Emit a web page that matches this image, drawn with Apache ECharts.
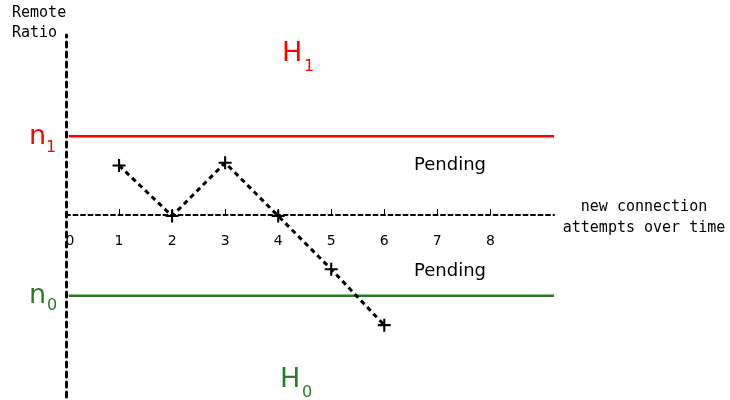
<!DOCTYPE html>
<html>
<head>
<meta charset="utf-8">
<script src="https://cdn.jsdelivr.net/npm/echarts@6/dist/echarts.min.js"></script>
<style>
  html, body { margin: 0; padding: 0; background: #fff; }
  #chart { width: 730px; height: 400px; }
</style>
</head>
<body>
<div id="chart"></div>
<script>
(function () {

  // attempts (x) and remote ratio (y) of the walk
  var steps = [1, 2, 3, 4, 5, 6];
  var ratios = [0.95, 0, 1.0, 0, -1.0, -2.05];

  // thresholds
  var span = [0.05, 9.2];
  var upperLevel = 1.5;   // n1
  var lowerLevel = -1.5;  // n0

  var tickValues = [1, 2, 3, 4, 5, 6, 7, 8];
  var labelValues = [0, 1, 2, 3, 4, 5, 6, 7, 8];

  var red = '#ff0000';
  var green = '#2a7b26';
  var sans = 'DejaVu Sans';
  var mono = 'DejaVu Sans Mono';
  var plus = 'path://M-1,-0.16H-0.16V-1H0.16V-0.16H1V0.16H0.16V1H-0.16V0.16H-1Z';

  var myChart = echarts.init(document.getElementById('chart'));
  var option = {
    animation: false,
    backgroundColor: '#fff',
    grid: [
      // plot area
      { left: 66, right: 176, top: 35, bottom: 3, outerBoundsMode: 'none' },
      // upper half, its bottom edge carries the time axis at ratio 0
      { left: 66, right: 176, top: 35, bottom: 185, outerBoundsMode: 'none' }
    ],
    xAxis: [
      { gridIndex: 0, type: 'value', min: 0, max: 9.2, show: false },
      {
        gridIndex: 1,
        type: 'value',
        min: 0,
        max: 9.2,
        interval: 1,
        position: 'bottom',
        splitLine: { show: false },
        axisLine: { onZero: false, lineStyle: { color: '#000', width: 2, type: [4, 3.5] } },
        axisTick: {
          inside: true, length: 6, customValues: tickValues,
          lineStyle: { color: '#000', width: 1 }
        },
        axisLabel: {
          customValues: labelValues, margin: 19,
          color: '#000', fontFamily: sans, fontSize: 14,
          formatter: function (v) { return v === 0 ? '{z|0}' : String(v); },
          rich: { z: { padding: [0, 0, 0, 8], fontFamily: sans, fontSize: 14, color: '#000' } }
        }
      }
    ],
    yAxis: [
      {
        gridIndex: 0,
        type: 'value',
        min: -3.4,
        max: 3.4,
        splitLine: { show: false },
        axisTick: { show: false },
        axisLabel: { show: false },
        axisLine: { onZero: false, lineStyle: { color: '#000', width: 3, type: [5, 5] } }
      },
      { gridIndex: 1, type: 'value', show: false }
    ],
    series: [
      {
        type: 'line',
        data: span.map(function (x) { return [x, upperLevel]; }),
        symbol: 'none',
        lineStyle: { color: red, width: 2.5 }
      },
      {
        type: 'line',
        data: span.map(function (x) { return [x, lowerLevel]; }),
        symbol: 'none',
        lineStyle: { color: green, width: 2.5 }
      },
      {
        type: 'line',
        data: steps.map(function (s, i) { return [s, ratios[i]]; }),
        symbol: plus,
        symbolSize: 13,
        itemStyle: { color: '#000' },
        lineStyle: { color: '#000', width: 3, type: [5, 4] },
        z: 5
      }
    ],
    graphic: [
      { type: 'text', left: 12, top: 3, style: { text: 'Remote\nRatio', fontFamily: mono, fontSize: 15, lineHeight: 20, fill: '#000' } },
      { type: 'text', x: 644, y: 218, style: { text: 'new connection\nattempts over time', fontFamily: mono, fontSize: 15, lineHeight: 21, fill: '#000', align: 'center', verticalAlign: 'middle' } },
      { type: 'text', x: 29, y: 137, style: { text: 'n', fontFamily: sans, fontSize: 27, fill: red, verticalAlign: 'middle' } },
      { type: 'text', x: 46, y: 148, style: { text: '1', fontFamily: sans, fontSize: 16, fill: red, verticalAlign: 'middle' } },
      { type: 'text', x: 29, y: 296, style: { text: 'n', fontFamily: sans, fontSize: 27, fill: green, verticalAlign: 'middle' } },
      { type: 'text', x: 47, y: 306, style: { text: '0', fontFamily: sans, fontSize: 16, fill: green, verticalAlign: 'middle' } },
      { type: 'text', x: 282, y: 54, style: { text: 'H', fontFamily: sans, fontSize: 27, fill: red, verticalAlign: 'middle' } },
      { type: 'text', x: 304, y: 67, style: { text: '1', fontFamily: sans, fontSize: 16, fill: red, verticalAlign: 'middle' } },
      { type: 'text', x: 280, y: 380, style: { text: 'H', fontFamily: sans, fontSize: 27, fill: green, verticalAlign: 'middle' } },
      { type: 'text', x: 302, y: 393, style: { text: '0', fontFamily: sans, fontSize: 16, fill: green, verticalAlign: 'middle' } },
      { type: 'text', x: 450, y: 165, style: { text: 'Pending', fontFamily: sans, fontSize: 18, fill: '#000', align: 'center', verticalAlign: 'middle' } },
      { type: 'text', x: 450, y: 271, style: { text: 'Pending', fontFamily: sans, fontSize: 18, fill: '#000', align: 'center', verticalAlign: 'middle' } }
    ]
  };

  myChart.setOption(option);
})();
</script>
</body>
</html>
